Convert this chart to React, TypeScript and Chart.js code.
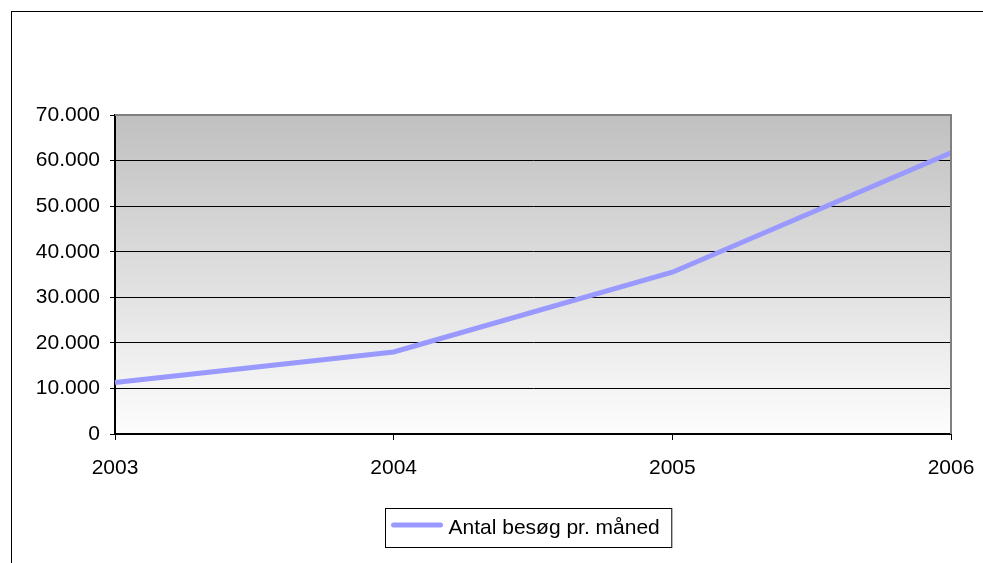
import React, { useEffect, useRef } from "react";
import { Chart, registerables } from "chart.js";

Chart.register(...registerables);

const years = ["2003", "2004", "2005", "2006"];
const visits = [11300, 18000, 35500, 61700];
const seriesLabel = "Antal besøg pr. måned";
const yTicks = [0, 10000, 20000, 30000, 40000, 50000, 60000, 70000];

const FONT = "'Liberation Sans', Arial, sans-serif";
const FSIZE = 21;

function fmt(v: number): string {
  const s = Math.round(v).toString();
  return s.replace(/\B(?=(\d{3})+(?!\d))/g, ".");
}

const bgPlugin = {
  id: "bgPlugin",
  beforeDraw(chart: any) {
    const { ctx, chartArea } = chart;
    const { left, top, right, bottom } = chartArea;
    const g = ctx.createLinearGradient(0, top, 0, bottom);
    g.addColorStop(0, "#c0c0c0");
    g.addColorStop(1, "#fdfdfd");
    ctx.save();
    ctx.fillStyle = g;
    ctx.fillRect(left, top, right - left, bottom - top);
    ctx.restore();
  },
  afterDatasetsDraw(chart: any) {
    const { ctx, chartArea } = chart;
    const { left, top, right, bottom } = chartArea;
    ctx.save();
    ctx.strokeStyle = "#808080";
    ctx.lineWidth = 2;
    ctx.beginPath();
    ctx.moveTo(left, top);
    ctx.lineTo(right, top);
    ctx.lineTo(right, bottom);
    ctx.stroke();
    ctx.restore();
  },
  afterDraw(chart: any) {
    const { ctx } = chart;
    const ds = chart.data.datasets[0];
    ctx.save();
    ctx.font = `${FSIZE}px ${FONT}`;
    const tw = ctx.measureText(ds.label).width;
    const lineLen = 53;
    const padL = 5;
    const gap = 5;
    const padR = 12;
    const w = padL + lineLen + gap + tw + padR;
    const h = 39;
    const cx = 528.5;
    const x0 = Math.round(cx - w / 2) + 0.5;
    const y0 = 508.5;
    ctx.strokeStyle = "#000";
    ctx.lineWidth = 1;
    ctx.strokeRect(x0, y0, w, h);
    const ly = y0 + h / 2 - 3;
    ctx.strokeStyle = ds.borderColor;
    ctx.lineWidth = 5;
    ctx.lineCap = "round";
    ctx.beginPath();
    ctx.moveTo(x0 + padL + 3, ly);
    ctx.lineTo(x0 + padL + lineLen - 3, ly);
    ctx.stroke();
    ctx.fillStyle = "#000";
    ctx.textBaseline = "middle";
    ctx.textAlign = "left";
    ctx.fillText(ds.label, x0 + padL + lineLen + gap, y0 + h / 2);
    ctx.restore();
  },
};

export default function App() {
  const ref = useRef<HTMLCanvasElement | null>(null);

  useEffect(() => {
    if (!ref.current) return;
    const chart = new Chart(ref.current, {
      type: "line",
      data: {
        labels: years,
        datasets: [
          {
            label: seriesLabel,
            data: visits,
            borderColor: "#9999ff",
            backgroundColor: "#9999ff",
            borderWidth: 5,
            pointRadius: 0,
            tension: 0,
            fill: false,
          },
        ],
      },
      options: {
        animation: false,
        responsive: false,
        maintainAspectRatio: false,
        layout: { padding: { left: 0, top: 115, right: 32, bottom: 0 } },
        plugins: {
          legend: { display: false },
          tooltip: { enabled: false },
        },
        scales: {
          x: {
            type: "category",
            offset: false,
            grid: {
              display: true,
              drawOnChartArea: false,
              drawTicks: true,
              tickLength: 6,
              color: "#000",
            },
            border: { display: true, color: "#000", width: 2 },
            ticks: {
              color: "#000",
              font: { family: FONT, size: FSIZE },
              padding: 16,
              maxRotation: 0,
              autoSkip: false,
            },
            afterFit(scale: any) {
              scale.height = 129;
              scale.paddingRight = 0;
              scale.paddingLeft = 0;
            },
          },
          y: {
            min: 0,
            max: 70000,
            afterBuildTicks(scale: any) {
              scale.ticks = yTicks.map((v) => ({ value: v }));
            },
            grid: {
              color: "#000",
              lineWidth: 1,
              drawTicks: true,
              tickLength: 5,
            },
            border: { display: true, color: "#000", width: 2 },
            ticks: {
              color: "#000",
              font: { family: FONT, size: FSIZE },
              padding: 10,
              callback: (v: any) => fmt(Number(v)),
            },
            afterFit(scale: any) {
              scale.width = 115;
              scale.paddingTop = 0;
              scale.paddingBottom = 0;
            },
          },
        },
      },
      plugins: [bgPlugin],
    });
    return () => chart.destroy();
  }, []);

  return (
    <div
      style={{
        position: "fixed",
        left: 0,
        top: 0,
        width: 983,
        height: 563,
        background: "#fff",
        overflow: "hidden",
      }}
    >
      <canvas ref={ref} width={983} height={563} style={{ position: "absolute", left: 0, top: 0, width: 983, height: 563 }} />
      <div
        style={{
          position: "absolute",
          left: 11,
          top: 11,
          width: 1000,
          height: 600,
          borderLeft: "1.5px solid #000",
          borderTop: "1.5px solid #000",
          pointerEvents: "none",
        }}
      />
    </div>
  );
}
